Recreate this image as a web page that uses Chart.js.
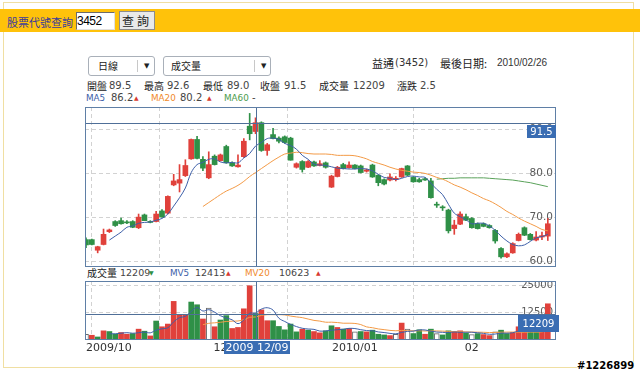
<!DOCTYPE html>
<html><head><meta charset="utf-8">
<script src="https://cdn.jsdelivr.net/npm/chart.js@4.4.1/dist/chart.umd.min.js"></script>
<style>
html,body{margin:0;padding:0;background:#fff;}
body{width:640px;height:376px;position:relative;overflow:hidden;font-family:"DejaVu Sans",Verdana,sans-serif;}
.a{position:absolute;white-space:nowrap;}
.c{font-family:"Noto Sans CJK TC","Noto Sans CJK SC",sans-serif;font-size:10px;line-height:12px;color:#222;}
.n{font-family:"DejaVu Sans",sans-serif;font-size:10px;line-height:12px;color:#444;}
.m{font-family:"DejaVu Sans",sans-serif;font-size:8.8px;line-height:12px;}
.up{color:#d83a32;font-size:6px;line-height:12px;}
.dn{color:#2f8f45;font-size:6px;line-height:12px;}
.sel{border:1px solid #a9b0b9;border-radius:3px;background:#fff;height:18px;}
.sep{position:absolute;top:3px;width:1px;height:12px;background:#c8c8c8;}
.arr{position:absolute;top:0;font-size:7px;line-height:18px;color:#222;}
canvas{display:block;}
</style></head>
<body>
<div class="a" style="left:3px;top:2px;width:629px;height:364px;border:1px solid #f0dfa2;"></div>
<div class="a" style="left:0;top:9px;width:640px;height:23px;background:#ffc20a;"></div>
<div class="a c" style="left:7px;top:15px;font-size:11px;line-height:14px;color:#3a3a9a;">股票代號查詢</div>
<div class="a" style="left:76px;top:12px;width:37px;height:16px;background:#fff;border-top:1px solid #6b6b6b;border-left:1px solid #6b6b6b;border-bottom:1px solid #e0e0e0;border-right:1px solid #e0e0e0;font:12px 'Liberation Sans',Arial,sans-serif;line-height:16px;letter-spacing:-0.5px;color:#000;">3452</div>
<div class="a c" style="left:119px;top:11px;width:34px;height:17px;background:#e9e9e9;border:1px solid #8c8c8c;font-size:12px;line-height:17px;text-align:center;letter-spacing:3px;color:#222;">查詢</div>

<div class="a sel" style="left:88px;top:56px;width:65px;">
  <span class="a c" style="left:9px;top:3px;">日線</span>
  <div class="sep" style="left:48px;"></div>
  <span class="arr" style="left:55px;">▼</span>
</div>
<div class="a sel" style="left:163px;top:56px;width:106px;">
  <span class="a c" style="left:7px;top:3px;">成交量</span>
  <div class="sep" style="left:90px;"></div>
  <span class="arr" style="left:97px;">▼</span>
</div>
<span class="a c" style="left:372px;top:57px;font-size:11px;">益通</span><span class="a n" style="left:395px;top:57px;color:#333;">(3452)</span>
<span class="a c" style="left:440px;top:57px;font-size:11px;">最後日期:</span><span class="a n" style="left:497px;top:57px;color:#333;font:10px 'Liberation Sans',Arial,sans-serif;line-height:12px;">2010/02/26</span>

<span class="a c" style="left:87px;top:80px;">開盤</span><span class="a n" style="left:109px;top:80px;">89.5</span>
<span class="a c" style="left:144px;top:80px;">最高</span><span class="a n" style="left:167px;top:80px;">92.6</span>
<span class="a c" style="left:203px;top:80px;">最低</span><span class="a n" style="left:227px;top:80px;">89.0</span>
<span class="a c" style="left:260px;top:80px;">收盤</span><span class="a n" style="left:284px;top:80px;">91.5</span>
<span class="a c" style="left:319px;top:80px;">成交量</span><span class="a n" style="left:353px;top:80px;">12209</span>
<span class="a c" style="left:397px;top:80px;">漲跌</span><span class="a n" style="left:420px;top:80px;">2.5</span>

<span class="a m" style="left:86px;top:92px;color:#3d5fa8;">MA5</span><span class="a n" style="left:111px;top:92px;">86.2</span><span class="a up" style="left:134px;top:92px;">▲</span>
<span class="a m" style="left:151px;top:92px;color:#f08a2a;">MA20</span><span class="a n" style="left:180px;top:92px;">80.2</span><span class="a up" style="left:207px;top:92px;">▲</span>
<span class="a m" style="left:224px;top:92px;color:#4c9c4c;">MA60</span><span class="a n" style="left:252px;top:92px;">-</span>

<span class="a c" style="left:87px;top:267px;">成交量</span><span class="a n" style="left:120px;top:267px;font-size:9.5px;">12209</span><span class="a dn" style="left:149px;top:267px;">▼</span>
<span class="a m" style="left:170px;top:267px;color:#3d5fa8;">MV5</span><span class="a n" style="left:195px;top:267px;font-size:9.5px;">12413</span><span class="a up" style="left:226px;top:267px;">▲</span>
<span class="a m" style="left:245px;top:267px;color:#f08a2a;">MV20</span><span class="a n" style="left:279px;top:267px;font-size:9.5px;">10623</span><span class="a up" style="left:316px;top:267px;">▲</span>

<div class="a" style="left:85px;top:107px;"><canvas id="pc" width="471" height="160"></canvas></div>
<div class="a" style="left:85px;top:281px;"><canvas id="vc" width="475" height="75"></canvas></div>

<div class="a" style="left:577px;top:359px;font:bold 10px 'DejaVu Sans',sans-serif;line-height:14px;color:#000;text-shadow:1px 0 #fff,-1px 0 #fff,0 1px #fff,0 -1px #fff;">#1226899</div>

<script>
// ---- data ----
const dates = ["2009/10/29","2009/10/30",
 "2009/11/02","2009/11/03","2009/11/04","2009/11/05","2009/11/06","2009/11/09","2009/11/10","2009/11/11","2009/11/12","2009/11/13",
 "2009/11/16","2009/11/17","2009/11/18","2009/11/19","2009/11/20","2009/11/23","2009/11/24","2009/11/25","2009/11/26","2009/11/27","2009/11/30",
 "2009/12/01","2009/12/02","2009/12/03","2009/12/04","2009/12/07","2009/12/08","2009/12/09","2009/12/10","2009/12/11","2009/12/14","2009/12/15",
 "2009/12/16","2009/12/17","2009/12/18","2009/12/21","2009/12/22","2009/12/23","2009/12/24","2009/12/25","2009/12/28","2009/12/29","2009/12/30","2009/12/31",
 "2010/01/04","2010/01/05","2010/01/06","2010/01/07","2010/01/08","2010/01/11","2010/01/12","2010/01/13","2010/01/14","2010/01/15",
 "2010/01/18","2010/01/19","2010/01/20","2010/01/21","2010/01/22","2010/01/25","2010/01/26","2010/01/27","2010/01/28","2010/01/29",
 "2010/02/01","2010/02/02","2010/02/03","2010/02/04","2010/02/05","2010/02/06","2010/02/08","2010/02/09","2010/02/10",
 "2010/02/22","2010/02/23","2010/02/24","2010/02/25","2010/02/26"];
const open = [65.0,65.0,62.6,63.9,66.8,69.1,69.3,69.0,69.1,67.7,70.6,69.1,69.1,71.5,71.0,77.4,77.8,79.5,83.3,87.7,
 83.2,79.0,83.9,82.9,86.1,82.4,81.5,83.8,90.7,89.5,91.5,85.2,88.8,88.0,88.3,88.0,81.4,82.7,81.4,82.6,
 81.8,82.4,76.9,79.3,82.0,81.3,81.9,81.7,80.5,81.9,79.6,78.6,78.5,78.6,79.2,81.7,79.1,78.6,78.8,78.3,
 72.9,72.3,71.7,67.5,68.5,70.2,69.8,68.6,68.6,68.2,67.1,63.0,61.1,62.0,64.8,67.7,66.2,64.9,65.6,65.8];
const high = [65.4,65.1,63.5,67.4,67.4,69.3,69.9,69.3,69.3,70.8,70.8,69.3,71.4,71.8,74.9,79.8,82.0,83.1,87.8,88.4,
 83.8,84.9,84.2,84.4,86.4,82.6,84.2,87.9,93.6,92.6,91.7,86.8,90.2,88.3,88.5,88.2,82.4,82.9,82.9,82.8,
 82.9,82.6,79.6,81.6,82.3,82.6,82.0,81.9,81.0,82.1,79.7,78.8,79.9,79.3,81.2,81.8,79.3,78.9,79.0,78.9,
 73.5,72.7,71.9,69.4,71.3,70.8,70.0,68.8,68.8,68.4,67.3,63.2,62.0,64.3,66.5,67.9,66.4,66.8,66.7,69.8];
const low = [63.2,63.8,62.0,63.8,66.6,68.0,68.5,68.6,67.7,67.5,69.3,68.8,69.0,70.1,70.8,77.2,75.8,79.3,83.2,83.3,
 80.6,78.8,81.9,82.8,82.3,81.6,81.4,83.6,87.6,89.0,85.0,84.1,87.8,86.9,86.8,83.0,81.2,80.3,81.3,81.6,
 81.7,81.2,76.8,79.2,81.0,81.2,81.0,80.1,80.3,79.1,77.2,77.4,78.3,78.3,79.1,79.5,78.0,78.0,78.4,74.4,
 72.3,71.6,66.5,66.2,68.4,69.3,67.6,67.4,67.9,67.6,64.2,60.8,60.9,61.9,64.7,65.9,64.9,64.7,65.0,64.8];
const close = [63.8,63.9,63.4,66.2,67.2,68.2,68.6,68.8,67.8,70.1,69.3,68.9,70.8,70.1,74.8,78.3,78.6,81.8,87.7,83.4,
 81.2,82.0,82.0,84.2,82.4,81.7,81.9,87.3,89.0,91.5,85.2,86.5,87.9,87.3,87.0,83.0,82.2,80.9,82.7,81.7,
 82.2,81.4,79.4,81.4,81.1,81.9,81.1,80.2,80.8,79.2,77.9,77.6,79.2,78.9,81.1,79.6,78.1,78.1,78.5,74.5,
 72.8,72.2,67.0,68.3,70.8,69.4,67.7,67.5,68.0,67.7,64.7,61.1,61.8,64.1,66.2,66.0,65.0,65.6,65.9,68.6];
const volume = [2660,2190,1400,4220,3900,2660,3440,2660,2970,5000,4060,1880,8750,6100,7350,17800,11570,11720,17500,16250,
 9690,14690,6100,9220,11250,5310,5780,14380,25000,12209,13900,8900,8900,6250,4690,7350,3750,5000,4530,3900,
 3300,4220,6560,5780,5000,5310,3750,3900,3750,4530,2660,2340,2030,2660,7800,5000,2970,4690,2660,5000,
 2970,2340,4220,3900,4220,3130,2500,2970,2500,2030,3750,4530,2970,3440,6100,4800,4000,4500,5200,16700];
// u = up (red), d = down (green), n = unchanged (hollow)
const volDir = "nududduudududuuuuuddunudduuuuduuddddduduuddudundudddununddudndduudnduundduuudduuu".split("");
const ma5 = [null,null,null,null,64.9,65.8,66.7,67.8,68.1,68.7,68.9,69.0,69.4,69.8,70.8,72.6,74.5,76.7,80.2,82.0,
 82.5,83.2,83.3,82.6,82.4,82.5,82.4,83.5,84.5,86.2,87.0,87.9,88.0,87.7,86.8,86.3,85.5,84.1,83.2,82.1,
 81.9,81.8,81.5,81.2,81.1,81.0,81.0,81.1,81.0,80.6,79.8,79.1,78.9,78.6,78.9,79.3,79.4,79.2,79.1,77.8,
 76.4,75.2,73.0,71.0,70.2,69.5,68.6,68.7,68.7,68.1,67.1,65.8,64.7,63.9,63.6,63.8,64.6,65.4,65.7,66.2];
const ma20 = [null,null,null,null,null,null,null,null,null,null,null,null,null,null,null,null,null,null,null,null,
 72.5,73.4,74.3,75.2,76.0,76.6,77.3,78.2,79.3,80.2,81.1,82.0,82.9,83.7,84.4,84.6,84.8,84.7,84.5,84.4,
 84.4,84.4,84.3,84.1,84.1,84.1,84.0,83.7,83.3,82.7,82.3,81.9,81.4,81.0,80.7,80.5,80.3,80.2,80.0,79.6,
 79.1,78.7,78.1,77.4,76.9,76.3,75.6,75.0,74.3,73.8,73.1,72.3,71.4,70.7,69.9,69.2,68.6,68.0,67.3,67.0];
const ma60 = [null,null,null,null,null,null,null,null,null,null,null,null,null,null,null,null,null,null,null,null,
 null,null,null,null,null,null,null,null,null,null,null,null,null,null,null,null,null,null,null,null,
 null,null,null,null,null,null,null,null,null,null,null,null,null,null,null,null,null,null,null,null,
 78.7,78.8,78.9,78.9,79.0,79.0,79.0,79.0,79.0,78.9,78.8,78.7,78.6,78.5,78.3,78.1,77.9,77.6,77.3,77.0];
const mv5 = [null,null,null,null,2870,2870,3120,3380,3130,3350,3630,3310,4530,5160,5630,8380,10310,10910,13190,14970,
 13350,13970,12850,11190,10190,9310,7530,9190,12340,12413,14250,14880,13780,10030,8530,7220,6190,5410,5060,4910,
 4100,4190,4500,4750,4970,5370,5280,4750,4340,4250,3720,3440,3060,2840,3500,3970,4090,4620,4620,4060,
 3660,3530,3440,3690,3530,3560,3590,3340,3060,2630,2750,3160,3160,3340,4160,4370,4260,4570,4920,7040];
const mv20 = [null,null,null,null,null,null,null,null,null,null,null,null,null,null,null,null,null,null,null,null,
 7060,7680,7920,8170,8530,8670,8780,9370,10470,10623,11320,11670,11680,11690,11560,11030,10640,10310,9660,9040,
 8720,8200,8220,8050,7740,7740,7630,7110,6050,5660,5100,4770,4430,4250,4410,4290,4250,4230,4140,4200,
 4180,4090,3970,3870,3840,3730,3660,3620,3560,3430,3480,3590,3640,3680,3600,3590,3640,3630,3750,4340];
const priceTicks = [60, 70, 80, 90];
const volumeTicks = [12500, 25000];
const monthLabels = ["2009/10", "", "12", "2010/01", "02"];
const crossDate = "2009/12/09";

// ---- styling ----
const RED = "#e0413b", GREEN = "#2f9047", FRAME = "#5f7fa6", CROSS = "#4f6f98", BOX = "#3a6db3";
const GRID = "#d2d2d2";
const N = dates.length;
const crossIndex = dates.indexOf(crossDate);
const monthIdx = [0];
for (let i = 1; i < N; i++) if (dates[i].slice(0,7) !== dates[i-1].slice(0,7)) monthIdx.push(i);
const XMIN = -0.17, XMAX = 80.4;

const pts = arr => arr.map((v,i) => v == null ? null : {x:i, y:v}).filter(Boolean);
const candleCol = close.map((c,i) => c >= open[i] ? RED : GREEN);
const volFill = volDir.map(d => d === "u" ? RED : d === "d" ? GREEN : "#ffffff");
const volBorderW = volDir.map(d => d === "n" ? 1 : 0);

const gridColor = c => (c.tick && monthIdx.indexOf(c.tick.value) > 0) ? GRID : "rgba(0,0,0,0)";
const noPadV = s => { s.width = 0; s.paddingTop = 0; s.paddingBottom = 0; };

function makeCross(valueAt, label, boxH, boxW, boxTopOff, font, extraRight) {
  return {
    id: 'cross',
    afterDatasetsDraw(chart) {
      const {ctx, chartArea:a, scales:{x, y}} = chart;
      const cx = Math.round(x.getPixelForValue(crossIndex)) + 0.5;
      const cy = Math.round(y.getPixelForValue(valueAt)) + 0.5;
      ctx.save();
      ctx.lineWidth = 1;
      ctx.strokeStyle = CROSS;
      ctx.beginPath();
      ctx.moveTo(cx, a.top); ctx.lineTo(cx, a.bottom);
      ctx.moveTo(a.left, cy); ctx.lineTo(a.right, cy);
      ctx.stroke();
      ctx.strokeStyle = FRAME;
      ctx.strokeRect(a.left + 0.5, a.top + 0.5, a.right - a.left - 1, a.bottom - a.top - 1);
      const bx = a.right - boxW + extraRight, by = Math.round(cy + boxTopOff);
      ctx.fillStyle = BOX;
      ctx.fillRect(bx, by, boxW, boxH);
      ctx.fillStyle = "#fff";
      ctx.font = font;
      ctx.textAlign = "center"; ctx.textBaseline = "middle";
      ctx.fillText(label, bx + boxW/2, by + boxH/2 + 0.5);
      ctx.restore();
    }
  };
}

const dateBox = {
  id: 'datebox',
  afterDraw(chart) {
    const {ctx, chartArea:a, scales:{x}} = chart;
    const cx = x.getPixelForValue(crossIndex);
    ctx.save();
    ctx.fillStyle = BOX;
    const w = 66, h = 13;
    const bx = Math.round(cx - 32), by = a.bottom + 1;
    ctx.fillRect(bx, by, w, h);
    ctx.fillStyle = "#fff";
    ctx.font = "11px 'DejaVu Sans'";
    ctx.textAlign = "center"; ctx.textBaseline = "middle";
    ctx.fillText(crossDate.replace("/", " "), bx + w/2, by + h/2 + 0.5);
    ctx.restore();
  }
};

Chart.defaults.font.family = "'DejaVu Sans', sans-serif";

new Chart(document.getElementById('pc'), {
  type: 'bar',
  data: { datasets: [
    {type:'line', data: pts(ma5), borderColor:"#3d5fa8", borderWidth:1, pointRadius:0, tension:0.35, order:0},
    {type:'line', data: pts(ma20), borderColor:"#f39a46", borderWidth:1, pointRadius:0, tension:0.35, order:0},
    {type:'line', data: pts(ma60), borderColor:"#5aa25a", borderWidth:1, pointRadius:0, tension:0.35, order:0},
    {type:'bar', data: dates.map((d,i)=>({x:i, y:[low[i], high[i]]})), backgroundColor:candleCol, barThickness:1, grouped:false, order:2},
    {type:'bar', data: dates.map((d,i)=>({x:i, y:[open[i], close[i]]})), backgroundColor:candleCol, barThickness:5, minBarLength:1, grouped:false, order:1}
  ]},
  options: {
    responsive:false, animation:false, events:[],
    layout:{padding:0},
    plugins:{legend:{display:false}, tooltip:{enabled:false}},
    scales:{
      x:{type:'linear', min:XMIN, max:XMAX, offset:false,
         afterBuildTicks: s => { s.ticks = monthIdx.map(v => ({value:v})); },
         afterFit: s => { s.height = 0; s.paddingLeft = 0; s.paddingRight = 0; },
         ticks:{display:false}, grid:{color:gridColor, drawTicks:false}, border:{display:false, dash:[4,3]}},
      y:{type:'linear', position:'right', min:58.8, max:95.05,
         afterBuildTicks: s => { s.ticks = priceTicks.map(v => ({value:v})); },
         afterFit: noPadV,
         ticks:{mirror:true, padding:-3, color:"#5a5a5a", font:{size:10.5}, callback: v => v.toFixed(1)},
         grid:{color:GRID, drawTicks:false}, border:{display:false, dash:[4,3]}}
    }
  },
  plugins:[makeCross(close[crossIndex], close[crossIndex].toFixed(1), 13, 29, 1, "10px 'DejaVu Sans'", 0)]
});

new Chart(document.getElementById('vc'), {
  type: 'bar',
  data: { datasets: [
    {type:'line', data: pts(mv5), borderColor:"#3d5fa8", borderWidth:1, pointRadius:0, tension:0.35, order:0},
    {type:'line', data: pts(mv20), borderColor:"#f39a46", borderWidth:1, pointRadius:0, tension:0.35, order:0},
    {type:'bar', data: dates.map((d,i)=>({x:i, y:volume[i]})), backgroundColor:volFill, borderColor:"#6a6a6a", borderWidth:volBorderW, borderSkipped:false, barThickness:5, grouped:false, order:1}
  ]},
  options: {
    responsive:false, animation:false, events:[],
    layout:{padding:{right:4}},
    plugins:{legend:{display:false}, tooltip:{enabled:false}},
    scales:{
      x:{type:'linear', min:XMIN, max:XMAX, offset:false,
         afterBuildTicks: s => { s.ticks = monthIdx.map(v => ({value:v})).concat([{value:XMAX}]); },
         afterFit: s => { s.height = 16; s.paddingLeft = 0; s.paddingRight = 0; },
         ticks:{display:true, autoSkip:false, maxRotation:0, align:'inner', padding:2, color:"#333", font:{size:11},
                callback: (v, i) => i < monthLabels.length ? monthLabels[i] : ""},
         grid:{color:gridColor, drawTicks:false}, border:{display:false, dash:[4,3]}},
      y:{type:'linear', position:'right', min:0, max:27200,
         afterBuildTicks: s => { s.ticks = volumeTicks.map(v => ({value:v})); },
         afterFit: noPadV,
         ticks:{mirror:true, padding:-3, color:"#5a5a5a", font:{size:10}, callback: v => String(v)},
         grid:{color:GRID, drawTicks:false}, border:{display:false, dash:[4,3]}}
    }
  },
  plugins:[makeCross(volume[crossIndex], String(volume[crossIndex]), 17, 41, 0, "10px 'DejaVu Sans'", 3), dateBox]
});
</script>
</body></html>
